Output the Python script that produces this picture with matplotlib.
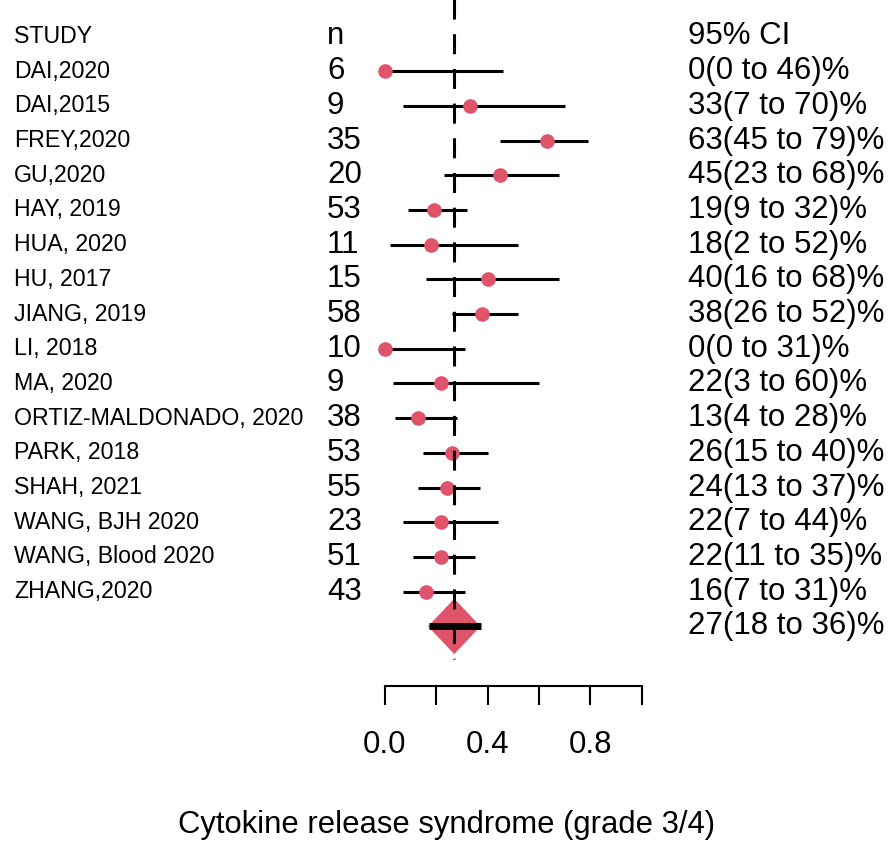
import matplotlib
matplotlib.use("Agg")
import matplotlib.pyplot as plt
import matplotlib.transforms as mtrans
from matplotlib.patches import Polygon
import numpy as np

plt.rcParams['font.family'] = ['Liberation Sans', 'DejaVu Sans']

studies = ["DAI,2020", "DAI,2015", "FREY,2020", "GU,2020", "HAY, 2019", "HUA, 2020",
           "HU, 2017", "JIANG, 2019", "LI, 2018", "MA, 2020", "ORTIZ-MALDONADO, 2020",
           "PARK, 2018", "SHAH, 2021", "WANG, BJH 2020", "WANG, Blood 2020", "ZHANG,2020"]
n_pat = [6, 9, 35, 20, 53, 11, 15, 58, 10, 9, 38, 53, 55, 23, 51, 43]
est = [0, 33, 63, 45, 19, 18, 40, 38, 0, 22, 13, 26, 24, 22, 22, 16]
lower = [0, 7, 45, 23, 9, 2, 16, 26, 0, 3, 4, 15, 13, 7, 11, 7]
upper = [46, 70, 79, 68, 32, 52, 68, 52, 31, 60, 28, 40, 37, 44, 35, 31]
pooled = (27, 18, 36)

W, H = 893, 841
pink = '#DF536B'
big = 22.5     # n / CI / axis text
small = 16.7   # study names

fig = plt.figure(figsize=(W / 100, H / 100), dpi=100)
ax = fig.add_axes([0, 0, 1, 1])
x0, scale = 385, 256.5   # pixel of 0 and pixels per unit
ax.set_xlim(-x0 / scale, (W - x0) / scale)
y0, step = 36.5, 34.7    # pixel of header row and row spacing
ax.set_ylim((H - y0) / step, -y0 / step)
ax.axis('off')

rows = np.arange(1, len(studies) + 1)
e = np.array(est) / 100
lo = np.array(lower) / 100
hi = np.array(upper) / 100

ax.hlines(rows, lo, hi, color='black', lw=2.2, zorder=2)
ax.plot(e, rows, 'o', color=pink, ms=9.5, mec=pink, zorder=3)

# pooled estimate
r_sum = len(studies) + 1
pe, pl, pu = [v / 100 for v in pooled]
diamond = Polygon([[pl - 0.012, r_sum], [pe, r_sum - 0.8], [pu + 0.012, r_sum], [pe, r_sum + 0.8]],
                  closed=True, facecolor=pink, edgecolor='none', zorder=2)
ax.add_patch(diamond)
ax.hlines(r_sum, pl - 0.01, pu + 0.015, color='black', lw=5, zorder=3)

# reference line, dash period = row spacing
lw = 2.2
dash_px, gap_px = 20, step - 20
pat = (dash_px * 0.72 / lw, gap_px * 0.72 / lw)
start = 1 - 5 / step - 3
ax.vlines(pe, start, r_sum + 0.95, color='black', lw=lw, linestyles=[(0, pat)], zorder=4)

# text columns
tr = mtrans.blended_transform_factory(fig.transFigure, ax.transData)
ax.text(14 / W, 0, "STUDY", transform=tr, fontsize=small, va='center')
ax.text(327 / W, 0, "n", transform=tr, fontsize=big, va='center')
ax.text(688 / W, 0, "95% CI", transform=tr, fontsize=big, va='center')
for r, s, n, a, b, c in zip(rows, studies, n_pat, est, lower, upper):
    ax.text(14 / W, r, s, transform=tr, fontsize=small, va='center')
    ax.text(327 / W, r, str(n), transform=tr, fontsize=big, va='center')
    ax.text(688 / W, r, "%d(%d to %d)%%" % (a, b, c), transform=tr, fontsize=big, va='center')
ax.text(688 / W, r_sum, "%d(%d to %d)%%" % pooled, transform=tr, fontsize=big, va='center')

# x axis
ax2 = fig.add_axes([0, 1 - 686 / H, 1, 0.001])
ax2.set_xlim(ax.get_xlim())
ax2.patch.set_visible(False)
for sp in ['top', 'left', 'right']:
    ax2.spines[sp].set_visible(False)
ax2.spines['bottom'].set_bounds(0, 1)
ax2.spines['bottom'].set_linewidth(1.5)
ax2.set_yticks([])
ticks = np.arange(0, 1.01, 0.2)
ax2.set_xticks(ticks)
ax2.set_xticklabels(["0.0", "", "0.4", "", "0.8", ""])
ax2.tick_params(axis='x', length=13.5, width=1.5, labelsize=big, pad=18)

fig.text(0.5, 1 - 825 / H, "Cytokine release syndrome (grade 3/4)", ha='center', va='center',
         fontsize=22.3)

fig.savefig("out.png", dpi=100)
